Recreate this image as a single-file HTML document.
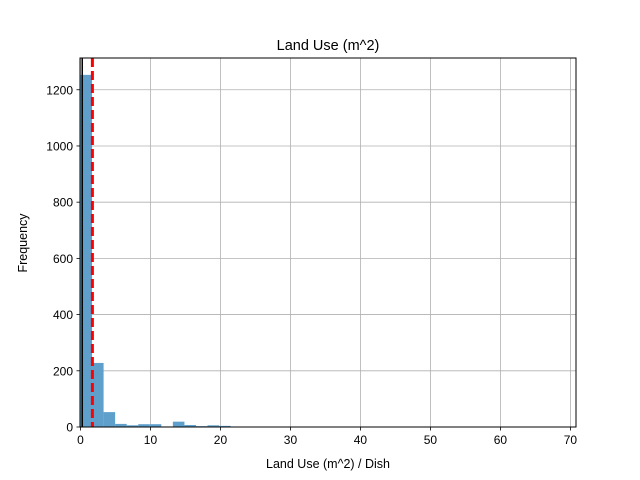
<!DOCTYPE html>
<html><head><meta charset="utf-8"><style>
body{margin:0;background:#fff}
svg{display:block;font-family:"Liberation Sans","DejaVu Sans",sans-serif}
</style></head><body>
<svg id="chart" width="640" height="480">
<text x="328" y="50" font-size="14.5" text-anchor="middle">Land Use (m^2)</text>
<text x="328" y="468" font-size="12.5" text-anchor="middle">Land Use (m^2) / Dish</text>
<text x="27" y="243" font-size="12.5" text-anchor="middle" transform="rotate(-90 27 243)">Frequency</text>
<g id="grid"></g><g id="bars"></g><g id="lines"></g><g id="axes"></g>
</svg>
<script>
const binStart = 0;
const binWidth = 1.65;
const counts = [1253, 228, 53, 11, 6, 10, 10, 2, 19, 7, 3, 6, 4, 1, 1, 0, 0, 0, 0, 0, 0, 0, 0, 0, 0, 0, 0, 0, 0, 0, 0, 0, 0, 0, 0, 0, 0, 0, 0, 0, 0, 1];
const xTicks = [0, 10, 20, 30, 40, 50, 60, 70];
const yTicks = [0, 200, 400, 600, 800, 1000, 1200];
const meanValue = 1.7;
const medianValue = 0.25;
const L=80,R=576,T=58,B=427;
const xMin=-0.07,xMax=70.8,yMax=1313;
const X=v=>L+(v-xMin)/(xMax-xMin)*(R-L);
const Y=v=>B-v/yMax*(B-T);
const NS='http://www.w3.org/2000/svg';
function mk(tag,attrs,parent){const e=document.createElementNS(NS,tag);for(const k in attrs)e.setAttribute(k,attrs[k]);document.getElementById(parent).appendChild(e);return e;}
xTicks.forEach(t=>{
  const g=mk('line',{x1:X(t),x2:X(t),y1:T,y2:B,stroke:'#b0b0b0','stroke-width':0.8},'grid');
  
  
  const tk=mk('line',{x1:X(t),x2:X(t),y1:B,y2:B+3.5,stroke:'#000','stroke-width':0.8},'axes');
  
  
  const lb=mk('text',{x:X(t),y:B+17,'font-size':12,'text-anchor':'middle'},'axes');
  lb.textContent=t;
  
  
});
yTicks.forEach(t=>{
  const g=mk('line',{x1:L,x2:R,y1:Y(t),y2:Y(t),stroke:'#b0b0b0','stroke-width':0.8},'grid');
  
  
  const tk=mk('line',{x1:L-3.5,x2:L,y1:Y(t),y2:Y(t),stroke:'#000','stroke-width':0.8},'axes');
  
  
  const lb=mk('text',{x:L-7,y:Y(t)+4.5,'font-size':12,'text-anchor':'end'},'axes');
  lb.textContent=t;
  
  
});
counts.forEach((c,i)=>{
  if(c<=0)return;
  const x0=X(binStart+i*binWidth),x1=X(binStart+(i+1)*binWidth);
  const r=mk('rect',{x:x0,y:Y(c),width:x1-x0,height:B-Y(c),fill:'#5f9fcc'},'bars');
  
  
});
const md=mk('line',{x1:X(medianValue),x2:X(medianValue),y1:T,y2:B,stroke:'#000','stroke-width':1.5},'lines');


const mn=mk('line',{x1:X(meanValue),x2:X(meanValue),y1:T,y2:B,stroke:'#ff0000','stroke-width':3,'stroke-dasharray':'9,4'},'lines');


const fr=mk('rect',{x:L,y:T,width:R-L,height:B-T,fill:'none',stroke:'#000','stroke-width':1},'axes');


</script>
</body></html>
